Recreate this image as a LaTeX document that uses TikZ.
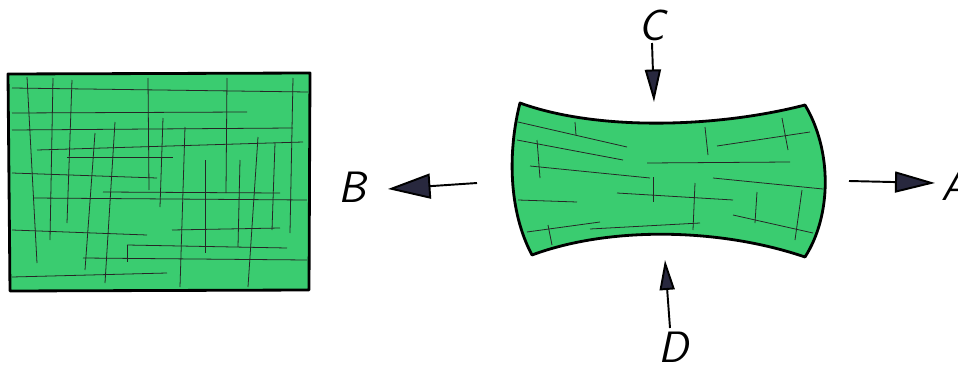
\documentclass[tikz,border=0pt]{standalone}
\usepackage{tikz}
\usetikzlibrary{arrows.meta,positioning}

\definecolor{marker}{RGB}{58,204,112}
\definecolor{inkhead}{RGB}{40,40,62}

\tikzset{
    sheet/.style={fill=marker, draw=black, line width=1.6pt, line join=round},
    hatch/.style={black!85, line width=0.45pt},
    force/.style={black, line width=1.1pt},
    letter/.style={font=\fontsize{25}{30}\selectfont\sffamily\itshape, inner sep=0pt}
}

\begin{document}
\begin{tikzpicture}[x=0.02cm, y=-0.02cm]
    \useasboundingbox (0,0) rectangle (958,365);

    % Unloaded sheet
    \draw[sheet] (8,74) -- (310,73) -- (309,290) -- (10,291) -- cycle;
    \foreach \xa/\ya/\xb/\yb in {12/88/308/92, 12/113/247/112, 12/130/293/128, 37/150/303/142,
                       67/157/173/157, 12/173/157/178, 103/192/280/193, 33/198/307/200,
                       12/230/147/235, 172/230/280/228, 127/245/287/248, 83/258/307/260,
                       12/277/167/273,
                       27/77/37/263, 53/78/50/240, 72/80/67/223, 95/133/85/270,
                       115/122/105/283, 148/78/149/190, 163/118/160/207, 185/127/180/287,
                       205/160/205/253, 227/78/226/193, 240/160/238/247, 258/137/248/287,
                       275/143/272/230, 293/78/290/233, 127/245/127/262}
        \draw[hatch] (\xa,\ya) -- (\xb,\yb);

    % Stretched sheet
    \draw[sheet] (520,103) .. controls (600,132) and (720,127) .. (805,105)
        .. controls (832,150) and (832,215) .. (805,257)
        .. controls (720,228) and (610,226) .. (532,255)
        .. controls (508,210) and (508,150) .. cycle;
    \foreach \xa/\ya/\xb/\yb in {518/122/627/147, 517/140/623/160, 530/166/650/178,
                       518/200/577/202, 617/193/733/200, 713/178/823/189,
                       647/163/790/162, 717/146/810/132, 590/229/700/223,
                       527/232/600/222, 733/215/813/233,
                       575/122/576/135, 537/140/540/178, 653/177/653/202,
                       695/183/693/230, 705/127/708/155, 782/118/788/150,
                       757/192/755/223, 802/190/795/240, 548/225/552/245}
        \draw[hatch] (\xa,\ya) -- (\xb,\yb);

    % Forces
    \coordinate (Btail) at (477,183);
    \coordinate (Btip) at (388,189);
    \coordinate (Atail) at (849,181);
    \coordinate (Atip) at (935,183);
    \coordinate (Ctail) at (652,43);
    \coordinate (Ctip) at (654,102);
    \coordinate (Dtail) at (670,328);
    \coordinate (Dtip) at (665,260);

    \draw[force, -{Triangle[length=0.85cm, width=0.5cm, fill=inkhead]}] (Btail) -- (Btip);
    \draw[force, -{Triangle[length=0.8cm, width=0.42cm, fill=inkhead]}] (Atail) -- (Atip);
    \draw[force, -{Triangle[length=0.65cm, width=0.32cm, fill=inkhead]}] (Ctail) -- (Ctip);
    \draw[force, -{Triangle[length=0.6cm, width=0.3cm, fill=inkhead]}] (Dtail) -- (Dtip);

    % Labels
    \node[letter] (B) at (352,187) {B};
    \node[letter, anchor=west] (A) at (941,185) {A};
    \node[letter] (C) at (652,25) {C};
    \node[letter] (D) at (673,347) {D};
\end{tikzpicture}
\end{document}
